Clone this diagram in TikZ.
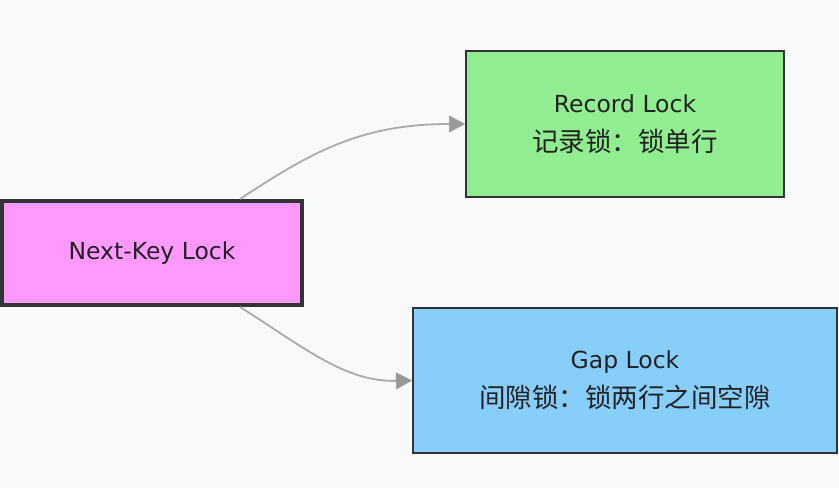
\documentclass[tikz,border=0pt]{standalone}
\usepackage{fontspec}
\setmainfont{DejaVu Sans}
\newfontfamily\cjk{Noto Sans CJK SC}
\usetikzlibrary{arrows.meta}
\definecolor{bgc}{HTML}{F8F9FA}
\definecolor{txt}{HTML}{333333}
\definecolor{ink}{HTML}{222222}
\definecolor{pinkc}{HTML}{FF99FF}
\definecolor{greenc}{HTML}{90EE90}
\definecolor{bluec}{HTML}{87CEFA}
\definecolor{edgec}{HTML}{AAAAAA}
\definecolor{tipc}{HTML}{999999}
\tikzset{
  box/.style={draw=txt, line width=2pt, inner sep=0pt, align=center, text=ink,
    font=\fontsize{23.5}{39}\selectfont},
  conn/.style={draw=edgec, line width=1.8pt,
    -{Triangle[length=16pt,width=17pt,color=tipc,fill=tipc,line width=0.5pt]}},
}
\begin{document}
\begin{tikzpicture}[x=1pt,y=1pt]
\fill[bgc] (0,0) rectangle (839,488);
\useasboundingbox (0,0) rectangle (839,488);
\node[box, fill=pinkc, line width=4pt, minimum width=300pt, minimum height=104pt] (nk) at (152,235) {Next-Key Lock};
\node[box, fill=greenc, minimum width=318pt, minimum height=146pt] (rec) at (625,364) {Record Lock\\{\cjk\fontsize{26.5}{39}\selectfont 记录锁：锁单行}};
\node[box, fill=bluec, minimum width=424pt, minimum height=145pt] (gap) at (625,107.5) {Gap Lock\\{\cjk\fontsize{26.5}{39}\selectfont 间隙锁：锁两行之间空隙}};
\coordinate (s1) at ([xshift=88pt]nk.north);
\coordinate (s2) at ([xshift=88pt]nk.south);
\draw[conn] (s1) .. controls (310,335) and (360,364) .. (rec.west);
\draw[conn] (s2) .. controls (305,140) and (345,106) .. (gap.west);
\end{tikzpicture}
\end{document}
